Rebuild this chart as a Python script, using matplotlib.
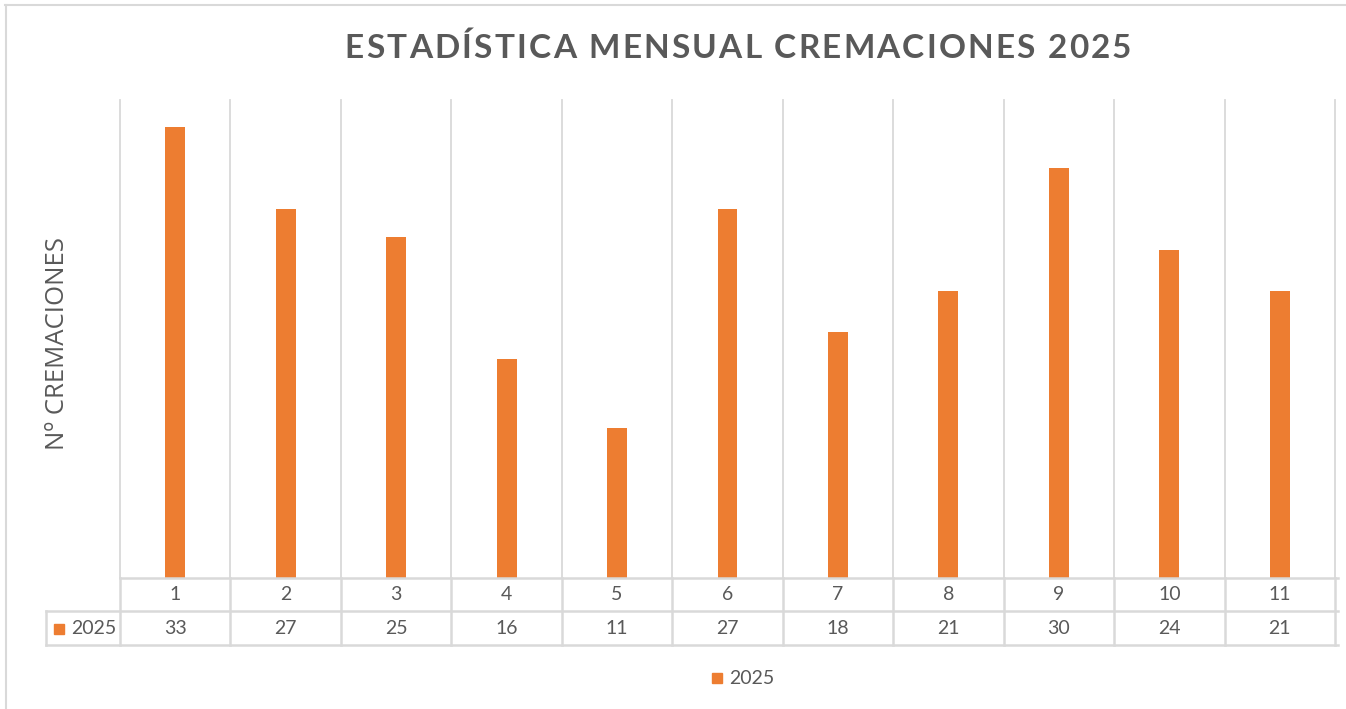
import numpy as np
import matplotlib.pyplot as plt
from matplotlib.lines import Line2D
from matplotlib.patches import Rectangle
from matplotlib.transforms import blended_transform_factory

# === DATOS ===
meses = [1, 2, 3, 4, 5, 6, 7, 8, 9, 10, 11]
cremaciones = [33, 27, 25, 16, 11, 27, 18, 21, 30, 24, 21]
serie = "2025"
titulo = "ESTADÍSTICA MENSUAL CREMACIONES 2025"
etiqueta_y = "Nº CREMACIONES"

# === ESTILO ===
naranja = "#ED7D31"
gris_texto = "#595959"
gris_linea = "#D9D9D9"
plt.rcParams['font.family'] = ['Lato', 'DejaVu Sans']

W, H = 1346, 709
fig = plt.figure(figsize=(W / 100, H / 100), dpi=100)


def fx(x):
    return x / W


def fy(y):
    return 1 - y / H


# zone du graphique
ax = fig.add_axes([fx(120), fy(578), fx(1335) - fx(120), fy(100) - fy(578)])
x = np.arange(len(meses))
ax.bar(x, cremaciones, width=0.18, color=naranja, zorder=3)
ax.set_xlim(-0.5, len(meses) - 0.5)
ax.set_ylim(0, 35)
for s in ax.spines.values():
    s.set_visible(False)
ax.set_xticks([])
ax.set_yticks([])
for k in range(len(meses) + 1):
    ax.axvline(k - 0.5, color=gris_linea, lw=1.3, zorder=1, clip_on=False)

# tableau de données sous le graphique
trans = blended_transform_factory(ax.transData, fig.transFigure)
lw_tab = 1.8
fig.add_artist(Line2D([fx(120), fx(1338)], [fy(578), fy(578)], color=gris_linea, lw=lw_tab))
for yy in (611, 645):
    fig.add_artist(Line2D([fx(46), fx(1338)], [fy(yy), fy(yy)], color=gris_linea, lw=lw_tab))
for k in range(len(meses) + 1):
    fig.add_artist(Line2D([k - 0.5, k - 0.5], [fy(578), fy(645)], transform=trans,
                          color=gris_linea, lw=lw_tab))
fig.add_artist(Line2D([fx(46), fx(46)], [fy(611), fy(645)], color=gris_linea, lw=lw_tab))

for xi, m, v in zip(x, meses, cremaciones):
    fig.text(xi, fy(595), str(m), transform=trans, ha='center', va='center',
             fontsize=14, color=gris_texto)
    fig.text(xi, fy(629), str(v), transform=trans, ha='center', va='center',
             fontsize=14, color=gris_texto)

fig.add_artist(Rectangle((fx(54), fy(634)), fx(10), 10 / H, color=naranja))
fig.text(fx(71), fy(629), serie, ha='left', va='center', fontsize=14, color=gris_texto)

# légende
fig.add_artist(Rectangle((fx(712), fy(683)), fx(10), 10 / H, color=naranja))
fig.text(fx(729), fy(678), serie, ha='left', va='center', fontsize=14, color=gris_texto)

# titre avec espacement des lettres (comme Excel)
renderer = fig.canvas.get_renderer()
espace = 2.2  # px entre lettres
kw_tit = dict(fontsize=24, fontweight='bold', color=gris_texto, va='center', ha='left')
anchos = []
for i in range(len(titulo) + 1):
    t = fig.text(0, 0, titulo[:i] + "|", **kw_tit)
    anchos.append(t.get_window_extent(renderer).width)
    t.remove()
anchos = [a - anchos[0] for a in anchos]
total = anchos[-1] + espace * (len(titulo) - 1)
x0 = 738 - total / 2
for i, c in enumerate(titulo):
    fig.text(fx(x0 + anchos[i] + espace * i), fy(48), c, **kw_tit)

fig.text(fx(58), fy(343), etiqueta_y, ha='center', va='center', rotation=90,
         fontsize=18.5, color=gris_texto, family=['Open Sans', 'DejaVu Sans'])

# cadre
fig.add_artist(Line2D([fx(5), fx(W)], [fy(5), fy(5)], color=gris_linea, lw=1.5))
fig.add_artist(Line2D([fx(6), fx(6)], [fy(5), fy(H)], color=gris_linea, lw=1.5))

fig.savefig("out.png", dpi=100)
